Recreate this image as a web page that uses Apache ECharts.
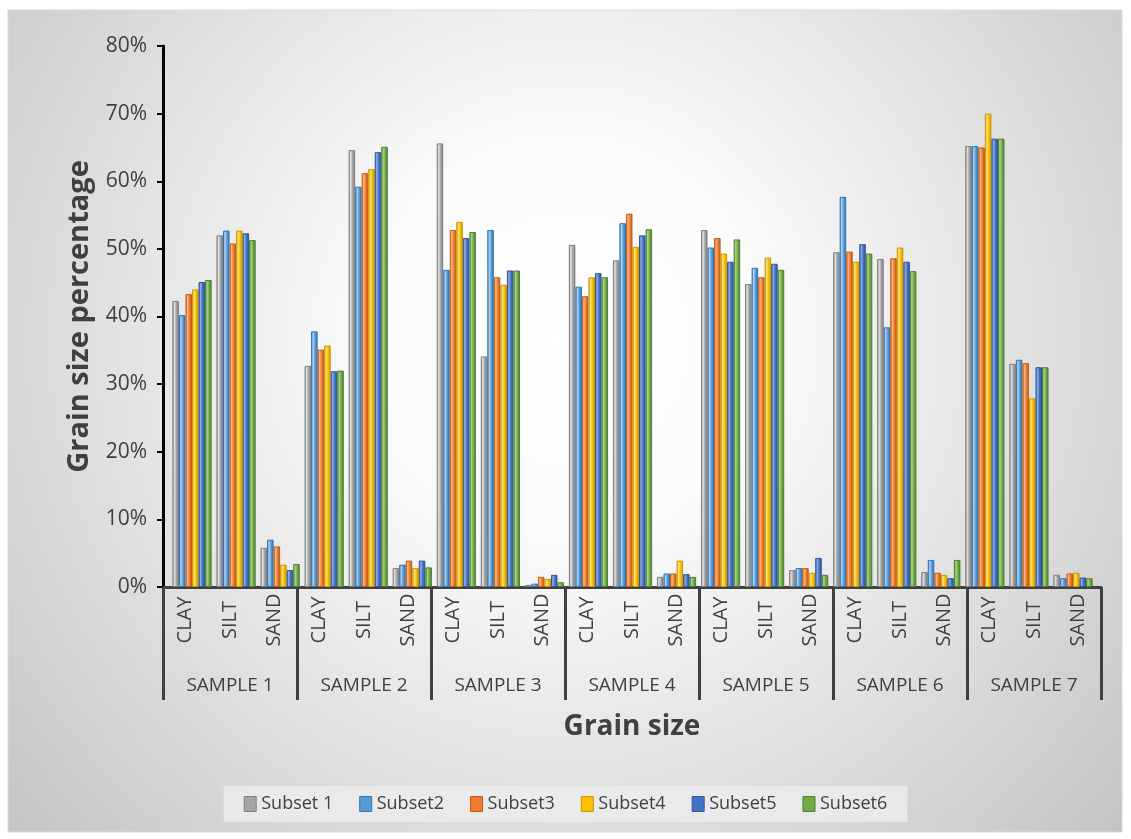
<!DOCTYPE html>
<html>
<head>
<meta charset="utf-8">
<title>Grain size percentage</title>
<script src="https://cdn.jsdelivr.net/npm/echarts@6/dist/echarts.min.js"></script>
<style>
  html, body { margin: 0; padding: 0; background: #ffffff; }
  #chart { width: 1131px; height: 839px; }
</style>
</head>
<body>
<div id="chart"></div>
<script>
// Grain size classes repeated for each sample
const grainClasses = ['CLAY', 'SILT', 'SAND'];
const samples = ['SAMPLE 1', 'SAMPLE 2', 'SAMPLE 3', 'SAMPLE 4', 'SAMPLE 5', 'SAMPLE 6', 'SAMPLE 7'];
const yTicks = [0, 10, 20, 30, 40, 50, 60, 70, 80];

const subsetNames = ['Subset 1', 'Subset2', 'Subset3', 'Subset4', 'Subset5', 'Subset6'];

// Percentages in order: S1 CLAY, SILT, SAND, S2 CLAY, SILT, SAND, ...
const subset1 = [42.3, 52.0, 5.8, 32.7, 64.6, 2.8, 65.6, 34.1, 0.3, 50.6, 48.3, 1.5, 52.8, 44.8, 2.5, 49.5, 48.5, 2.2, 65.2, 33.0, 1.8];
const subset2 = [40.2, 52.7, 7.0, 37.8, 59.2, 3.3, 46.9, 52.8, 0.5, 44.4, 53.8, 2.0, 50.2, 47.2, 2.8, 57.7, 38.4, 4.0, 65.2, 33.6, 1.3];
const subset3 = [43.3, 50.8, 6.0, 35.1, 61.2, 3.9, 52.8, 45.8, 1.5, 43.0, 55.2, 2.0, 51.6, 45.8, 2.8, 49.6, 48.6, 2.1, 65.0, 33.1, 2.0];
const subset4 = [44.0, 52.7, 3.3, 35.7, 61.8, 2.8, 54.0, 44.7, 1.2, 45.8, 50.3, 3.9, 49.3, 48.7, 2.1, 48.1, 50.2, 1.8, 70.0, 27.9, 2.1];
const subset5 = [45.1, 52.3, 2.5, 31.9, 64.3, 3.9, 51.6, 46.8, 1.8, 46.4, 52.0, 1.9, 48.1, 47.8, 4.3, 50.7, 48.1, 1.3, 66.3, 32.5, 1.4];
const subset6 = [45.4, 51.3, 3.4, 32.0, 65.1, 2.9, 52.5, 46.8, 0.7, 45.8, 52.9, 1.5, 51.4, 46.9, 1.8, 49.3, 46.7, 4.0, 66.3, 32.5, 1.3];

const subsetValues = [subset1, subset2, subset3, subset4, subset5, subset6];

// Base, light and edge tones for each subset (cylinder shading)
const subsetColors = [
  { base: '#a5a5a5', light: '#e4e4e4', edge: '#7f7f7f' },
  { base: '#5b9bd5', light: '#b6d4f0', edge: '#2e75b6' },
  { base: '#ed7d31', light: '#f8b98c', edge: '#c55a11' },
  { base: '#ffc000', light: '#ffe27a', edge: '#c99700' },
  { base: '#4472c4', light: '#8fb0e6', edge: '#2f5597' },
  { base: '#70ad47', light: '#a9d68a', edge: '#507e32' }
];

const categoryLabels = [];
samples.forEach(() => grainClasses.forEach(g => categoryLabels.push(g)));

const textColor = '#404040';
const fontFamily = '"Open Sans", "Noto Sans", sans-serif';

function barFill(c) {
  return new echarts.graphic.LinearGradient(0, 0, 1, 0, [
    { offset: 0, color: c.edge },
    { offset: 0.3, color: c.light },
    { offset: 0.6, color: c.base },
    { offset: 1, color: c.edge }
  ]);
}

// Bars live on their own slightly inset grid (floor depth of the 3D look)
const series = subsetNames.map((name, i) => ({
  name: name,
  type: 'bar',
  xAxisIndex: 2,
  yAxisIndex: 1,
  data: subsetValues[i],
  barGap: '0%',
  barCategoryGap: '11%',
  itemStyle: {
    color: barFill(subsetColors[i]),
    borderColor: subsetColors[i].edge,
    borderWidth: 1
  },
  emphasis: { disabled: true }
}));

const chart = echarts.init(document.getElementById('chart'), null, { renderer: 'canvas' });

chart.setOption({
  animation: false,
  graphic: [{
    type: 'rect',
    z: -10,
    silent: true,
    shape: { x: 8, y: 10, width: 1114, height: 822 },
    style: {
      fill: new echarts.graphic.RadialGradient(0.5, 0.4, 0.95, [
        { offset: 0, color: '#ffffff' },
        { offset: 0.25, color: '#fbfbfb' },
        { offset: 0.6, color: '#e0e0e0' },
        { offset: 1, color: '#c0c0c0' }
      ]),
      stroke: '#d9d9d9',
      lineWidth: 1
    }
  }],
  grid: [
    { left: 163, right: 30, top: 46, bottom: 252, containLabel: false },
    { left: 170, right: 36, top: 46, bottom: 252, containLabel: false }
  ],
  legend: {
    data: subsetNames.map((n, i) => ({
      name: n,
      itemStyle: { color: subsetColors[i].base, borderColor: subsetColors[i].edge, borderWidth: 1 }
    })),
    left: 'center',
    top: 786,
    icon: 'rect',
    itemWidth: 12,
    itemHeight: 15,
    itemGap: 26,
    padding: [9, 20],
    backgroundColor: 'rgba(236,236,236,0.85)',
    textStyle: { color: textColor, fontSize: 18, fontFamily: fontFamily }
  },
  xAxis: [
    {
      type: 'category',
      gridIndex: 0,
      data: categoryLabels,
      position: 'bottom',
      axisLine: { show: true, lineStyle: { color: textColor, width: 3 } },
      axisTick: { show: false },
      axisLabel: {
        rotate: 90,
        interval: 0,
        align: 'center',
        margin: 33,
        color: textColor,
        fontSize: 20,
        fontFamily: fontFamily
      }
    },
    {
      type: 'category',
      gridIndex: 0,
      data: samples,
      position: 'bottom',
      axisLine: { show: false },
      axisTick: { show: true, length: 113, lineStyle: { color: textColor, width: 3 } },
      axisLabel: {
        interval: 0,
        margin: 89,
        color: textColor,
        fontSize: 19,
        fontFamily: fontFamily
      },
      name: 'Grain size',
      nameLocation: 'middle',
      nameGap: 126,
      nameTextStyle: { color: textColor, fontSize: 28, fontWeight: 'bold', fontFamily: fontFamily }
    },
    {
      type: 'category',
      gridIndex: 1,
      data: categoryLabels,
      show: false
    }
  ],
  yAxis: [
    {
      type: 'value',
      gridIndex: 0,
      min: 0,
      max: 80,
      interval: 10,
      name: 'Grain size percentage',
      nameLocation: 'middle',
      nameGap: 68,
      nameTextStyle: { color: textColor, fontSize: 29, fontWeight: 'bold', fontFamily: fontFamily },
      axisLine: { show: true, lineStyle: { color: '#000000', width: 3 } },
      axisTick: { show: true, length: 6, lineStyle: { color: '#000000', width: 2 } },
      splitLine: { show: false },
      axisLabel: {
        formatter: v => (yTicks.indexOf(v) >= 0 ? v + '%' : ''),
        color: textColor,
        fontSize: 21,
        margin: 16,
        fontFamily: fontFamily
      }
    },
    {
      type: 'value',
      gridIndex: 1,
      min: 0,
      max: 80,
      interval: 10,
      show: false
    }
  ],
  series: series
});
</script>
</body>
</html>
